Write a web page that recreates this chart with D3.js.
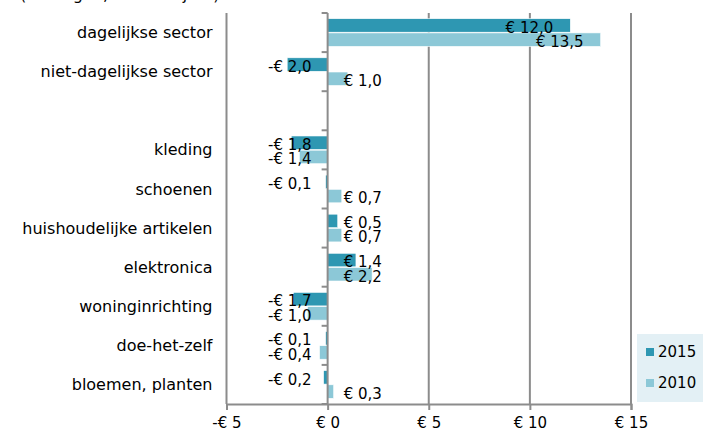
<!DOCTYPE html>
<html>
<head>
<meta charset="utf-8">
<script src="https://cdn.jsdelivr.net/npm/d3@7"></script>
<style>
  html, body { margin: 0; padding: 0; background: #fff; }
  svg { display: block; font-family: "DejaVu Sans", Verdana, sans-serif; }
</style>
</head>
<body>
<svg id="chart" width="703" height="433"></svg>
<script>
// Omzetverschil per sector (miljard euro), 2015 en 2010
const categories = [
  "dagelijkse sector",
  "niet-dagelijkse sector",
  "",
  "kleding",
  "schoenen",
  "huishoudelijke artikelen",
  "elektronica",
  "woninginrichting",
  "doe-het-zelf",
  "bloemen, planten"
];
const series = ["2015", "2010"];
const values2015 = [12.0, -2.0, null, -1.8, -0.1, 0.5, 1.4, -1.7, -0.1, -0.2];
const values2010 = [13.5, 1.0, null, -1.4, 0.7, 0.7, 2.2, -1.0, -0.4, 0.3];
const xTicks = [-5, 0, 5, 10, 15];
const title = "(bedragen, x € 1 miljard)";

const colors = { "2015": "#2e97b2", "2010": "#8cc8d7" };
const gridColor = "#8c8c8c";
const fontSize = 15;
const catFontSize = 16;

const svg = d3.select("#chart");
const margin = { left: 226.5, right: 72, top: 13, bottom: 29 };
const W = 703, H = 433;

const x = d3.scaleLinear().domain([-5, 15]).range([margin.left, W - margin.right]);
const y = d3.scaleBand().domain(categories.map((c, i) => i)).range([margin.top, H - margin.bottom]).padding(0);
const ys = d3.scaleBand().domain(series).range([0, y.bandwidth()]).paddingInner(0.05).paddingOuter(0.4);

const fmt = v => (v < 0 ? "-€ " : "€ ") + Math.abs(v).toFixed(1).replace(".", ",");

// heading, mostly above the top edge
svg.append("text").attr("x", 20).attr("y", 0).attr("font-size", catFontSize)
  .attr("fill", "#000").text(title);

// vertical gridlines
svg.append("g").selectAll("line").data(xTicks.filter(t => t !== 0)).join("line")
  .attr("x1", d => x(d)).attr("x2", d => x(d))
  .attr("y1", margin.top).attr("y2", H - margin.bottom)
  .attr("stroke", gridColor).attr("stroke-width", 2);

// bottom axis
const xAxis = svg.append("g").attr("transform", `translate(0,${H - margin.bottom})`)
  .call(d3.axisBottom(x).tickValues(xTicks).tickSize(6).tickPadding(7)
    .tickFormat(d => (d < 0 ? "-€ " : "€ ") + Math.abs(d)));
xAxis.select(".domain").attr("stroke", gridColor).attr("stroke-width", 2);
xAxis.selectAll(".tick line").attr("stroke", gridColor).attr("stroke-width", 2);
xAxis.selectAll(".tick text").attr("font-size", fontSize).attr("font-family", "DejaVu Sans, Verdana, sans-serif").attr("fill", "#000");

// bars
const rows = categories.map((c, i) => ({ i, c, v: { "2015": values2015[i], "2010": values2010[i] } }));
const barData = rows.flatMap(r => series.filter(s => r.v[s] !== null).map(s => ({ i: r.i, s, v: r.v[s] })));

svg.append("g").selectAll("rect").data(barData).join("rect")
  .attr("x", d => x(Math.min(0, d.v)))
  .attr("width", d => Math.abs(x(d.v) - x(0)))
  .attr("y", d => y(d.i) + ys(d.s))
  .attr("height", ys.bandwidth())
  .attr("fill", d => colors[d.s])
  .attr("stroke", "#fff").attr("stroke-width", 0.6);

// y axis at zero with ticks at band boundaries
const yAxisG = svg.append("g");
yAxisG.append("line").attr("x1", x(0)).attr("x2", x(0))
  .attr("y1", margin.top).attr("y2", H - margin.bottom)
  .attr("stroke", gridColor).attr("stroke-width", 2);
const boundaries = categories.map((c, i) => y(i)).concat([y(categories.length - 1) + y.bandwidth()]);
yAxisG.selectAll("line.tk").data(boundaries).join("line").attr("class", "tk")
  .attr("x1", x(0) - 6).attr("x2", x(0))
  .attr("y1", d => d).attr("y2", d => d)
  .attr("stroke", gridColor).attr("stroke-width", 2);

// category labels at the low side
svg.append("g").selectAll("text").data(rows.filter(r => r.c)).join("text")
  .attr("x", margin.left - 14)
  .attr("y", d => y(d.i) + y.bandwidth() / 2)
  .attr("dy", "0.35em")
  .attr("text-anchor", "end")
  .attr("font-size", catFontSize)
  .attr("fill", "#000")
  .text(d => d.c);

// value labels
svg.append("g").selectAll("text").data(barData).join("text")
  .attr("x", d => Math.abs(d.v) >= 5 ? x(d.v) - 17 : (d.v < 0 ? x(0) - 16 : x(0) + 16))
  .attr("y", d => y(d.i) + ys(d.s) + ys.bandwidth() / 2 + 2)
  .attr("dy", "0.35em")
  .attr("text-anchor", d => (Math.abs(d.v) >= 5 || d.v < 0) ? "end" : "start")
  .attr("font-size", fontSize)
  .attr("fill", "#000")
  .text(d => fmt(d.v));

// legend
const lg = svg.append("g");
lg.append("rect").attr("x", 637).attr("y", 334).attr("width", 70).attr("height", 68)
  .attr("fill", "#e3f0f5");
series.forEach((s, k) => {
  const cy = 352 + k * 31;
  lg.append("rect").attr("x", 646).attr("y", cy - 4).attr("width", 8).attr("height", 8).attr("fill", colors[s]);
  lg.append("text").attr("x", 658).attr("y", cy).attr("dy", "0.35em")
    .attr("font-size", fontSize).attr("fill", "#000").text(s);
});
</script>
</body>
</html>
